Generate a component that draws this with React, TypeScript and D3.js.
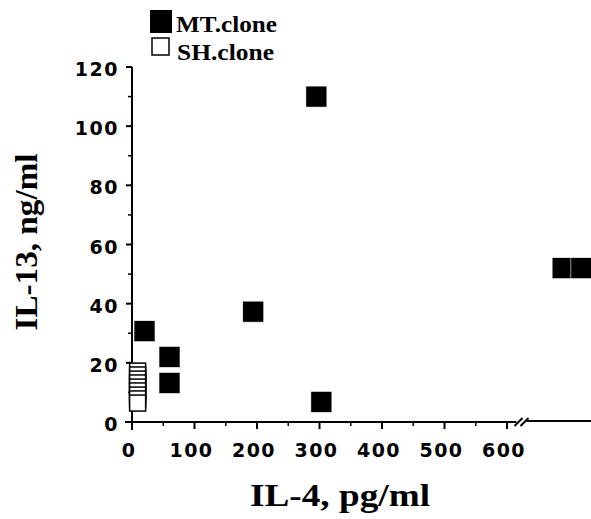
import React from "react";
import * as d3 from "d3";

const mtX = [20, 60, 60, 194, 295, 303, 689, 719];
const mtY = [30.7, 22, 13.2, 37.3, 110, 6.8, 52, 52];
const shX = [9, 9, 9, 9, 9, 9, 9, 9, 9];
const shY = [17.2, 15.9, 14.5, 13.2, 11.8, 10.5, 9.1, 7.8, 6.4];
const xTicks = [0, 100, 200, 300, 400, 500, 600];
const xMinor = [50, 150, 250, 350, 450, 550];
const yTicks = [0, 20, 40, 60, 80, 100, 120];
const yMinor = [10, 30, 50, 70, 90, 110];
const legendLabels = ["MT.clone", "SH.clone"];

const W = 591;
const H = 519;

export default function App() {
  const x = d3.scaleLinear().domain([0, 600]).range([132, 507]);
  const y = d3.scaleLinear().domain([0, 120]).range([422, 67]);
  const mtS = 21;
  const shS = 16;
  const tickFont = "'DejaVu Sans', sans-serif";
  const serif = "'Liberation Serif', 'Times New Roman', serif";
  const breakX = x(620);
  return (
    <svg width={W} height={H} style={{ position: "absolute", left: 0, top: 0, background: "#fff" }}>
      <rect x={0} y={0} width={W} height={H} fill="#fff" />
      {/* Y axis */}
      <line x1={x(0)} x2={x(0)} y1={y(120)} y2={y(0) + 8} stroke="#000" strokeWidth={2} />
      {yTicks.map((t) => (
        <g key={"yt" + t}>
          <line x1={x(0) - 6} x2={x(0)} y1={y(t)} y2={y(t)} stroke="#000" strokeWidth={2} />
          <text x={119} y={y(t) + 9} textAnchor="end" fontFamily={tickFont} fontWeight="bold" fontSize={19} letterSpacing={1.5}>
            {t}
          </text>
        </g>
      ))}
      {yMinor.map((t) => (
        <line key={"ym" + t} x1={x(0) - 4} x2={x(0)} y1={y(t)} y2={y(t)} stroke="#000" strokeWidth={1.5} />
      ))}
      {/* X axis */}
      <line x1={x(0) - 7} x2={breakX - 3} y1={y(0)} y2={y(0)} stroke="#000" strokeWidth={2} />
      <line x1={breakX + 7} x2={W} y1={y(0) - 1} y2={y(0) - 1} stroke="#000" strokeWidth={2} />
      <line x1={breakX - 5} x2={breakX + 3} y1={y(0) + 4} y2={y(0) - 4} stroke="#000" strokeWidth={2} />
      <line x1={breakX + 1} x2={breakX + 9} y1={y(0) + 4} y2={y(0) - 4} stroke="#000" strokeWidth={2} />
      {xTicks.map((t) => (
        <g key={"xt" + t}>
          <line x1={x(t)} x2={x(t)} y1={y(0)} y2={y(0) + 7} stroke="#000" strokeWidth={2} />
          <text x={x(t) - 3} y={457} textAnchor="middle" fontFamily={tickFont} fontWeight="bold" fontSize={19} letterSpacing={1.5}>
            {t}
          </text>
        </g>
      ))}
      {xMinor.map((t) => (
        <line key={"xm" + t} x1={x(t)} x2={x(t)} y1={y(0)} y2={y(0) + 4} stroke="#000" strokeWidth={1.5} />
      ))}
      {/* SH clone squares */}
      {shY.map((v, i) => (
        <rect
          key={"sh" + i}
          x={x(shX[i]) - shS / 2}
          y={y(v) - shS / 2}
          width={shS}
          height={shS}
          fill="#fff"
          stroke="#000"
          strokeWidth={1.5}
        />
      ))}
      {/* MT clone squares */}
      {mtY.map((v, i) => (
        <rect
          key={"mt" + i}
          x={x(mtX[i]) - mtS / 2}
          y={y(v) - mtS / 2}
          width={mtS}
          height={mtS}
          fill="#000"
          stroke="#fff"
          strokeWidth={0.6}
        />
      ))}
      {/* Legend */}
      <rect x={150} y={10} width={22} height={23} fill="#000" />
      <text x={176} y={32} fontFamily={serif} fontWeight="bold" fontSize={23} textLength={101} lengthAdjust="spacingAndGlyphs">
        {legendLabels[0]}
      </text>
      <rect x={152} y={38} width={17} height={17} fill="#fff" stroke="#000" strokeWidth={1.5} />
      <text x={177} y={60} fontFamily={serif} fontWeight="bold" fontSize={23} textLength={97} lengthAdjust="spacingAndGlyphs">
        {legendLabels[1]}
      </text>
      {/* Axis titles */}
      <text x={250} y={506} fontFamily={serif} fontWeight="bold" fontSize={32} textLength={180} lengthAdjust="spacingAndGlyphs">
        IL-4, pg/ml
      </text>
      <text
        transform={`translate(37, 242) rotate(-90)`}
        textAnchor="middle"
        fontFamily={serif}
        fontWeight="bold"
        fontSize={31}
        textLength={177}
        lengthAdjust="spacingAndGlyphs"
      >
        IL-13, ng/ml
      </text>
    </svg>
  );
}
